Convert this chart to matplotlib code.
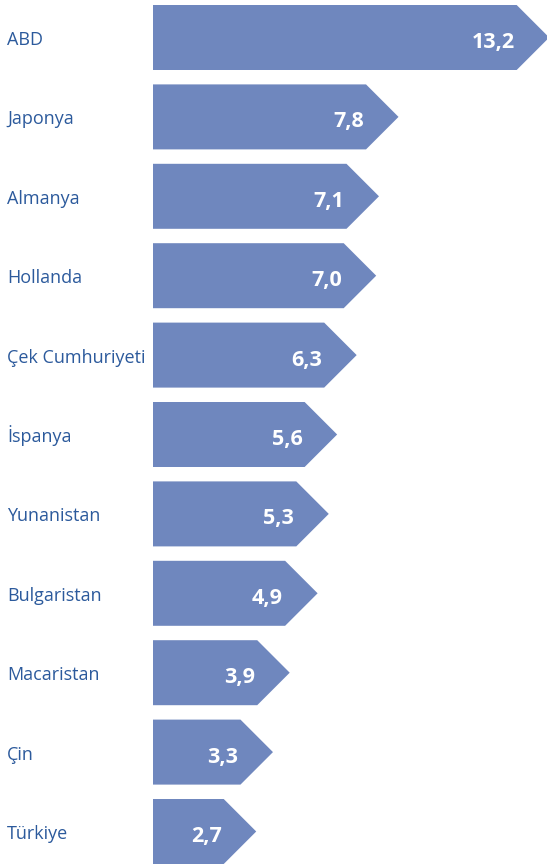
import matplotlib
matplotlib.use("Agg")
import matplotlib.pyplot as plt

# ---- data ----
countries = ["ABD", "Japonya", "Almanya", "Hollanda", "Çek Cumhuriyeti", "İspanya",
             "Yunanistan", "Bulgaristan", "Macaristan", "Çin", "Türkiye"]
values = [13.2, 7.8, 7.1, 7.0, 6.3, 5.6, 5.3, 4.9, 3.9, 3.3, 2.7]
value_labels = ["13,2", "7,8", "7,1", "7,0", "6,3", "5,6", "5,3", "4,9", "3,9", "3,3", "2,7"]

# ---- style / layout ----
W, H, DPI = 547, 864, 100
bar_color = "#6F87BE"
label_color = "#2C5A9C"
base = -1.0            # data value where bars start
px_per_unit = 27.9     # horizontal scale
bar_left_px = 153
row_px = 79.4
bar_h_px = 65
first_center_px = 37.5

fig = plt.figure(figsize=(W / DPI, H / DPI), dpi=DPI)
ax = fig.add_axes([0, 0, 1, 1])
x_left = base - bar_left_px / px_per_unit
ax.set_xlim(x_left, x_left + W / px_per_unit)
y_top = -first_center_px / row_px
ax.set_ylim(y_top + H / row_px, y_top)
ax.axis("off")

bar_h = bar_h_px / row_px
depth = (bar_h_px / 2) / px_per_unit

for i, (c, v, lab) in enumerate(zip(countries, values, value_labels)):
    body_end = v - depth
    xs = [base, body_end, v, body_end, base]
    ys = [i - bar_h / 2, i - bar_h / 2, i, i + bar_h / 2, i + bar_h / 2]
    ax.fill(xs, ys, color=bar_color, linewidth=0)
    ax.text(body_end - 2 / px_per_unit, i + 10.5 / row_px, lab, ha="right", va="baseline",
            color="white", fontsize=15.5, fontweight="bold", family="Open Sans")
    ax.text(x_left + 7 / px_per_unit, i + 7.5 / row_px, c, ha="left", va="baseline",
            color=label_color, fontsize=13, family="Open Sans")

fig.savefig("out.png", dpi=DPI)
